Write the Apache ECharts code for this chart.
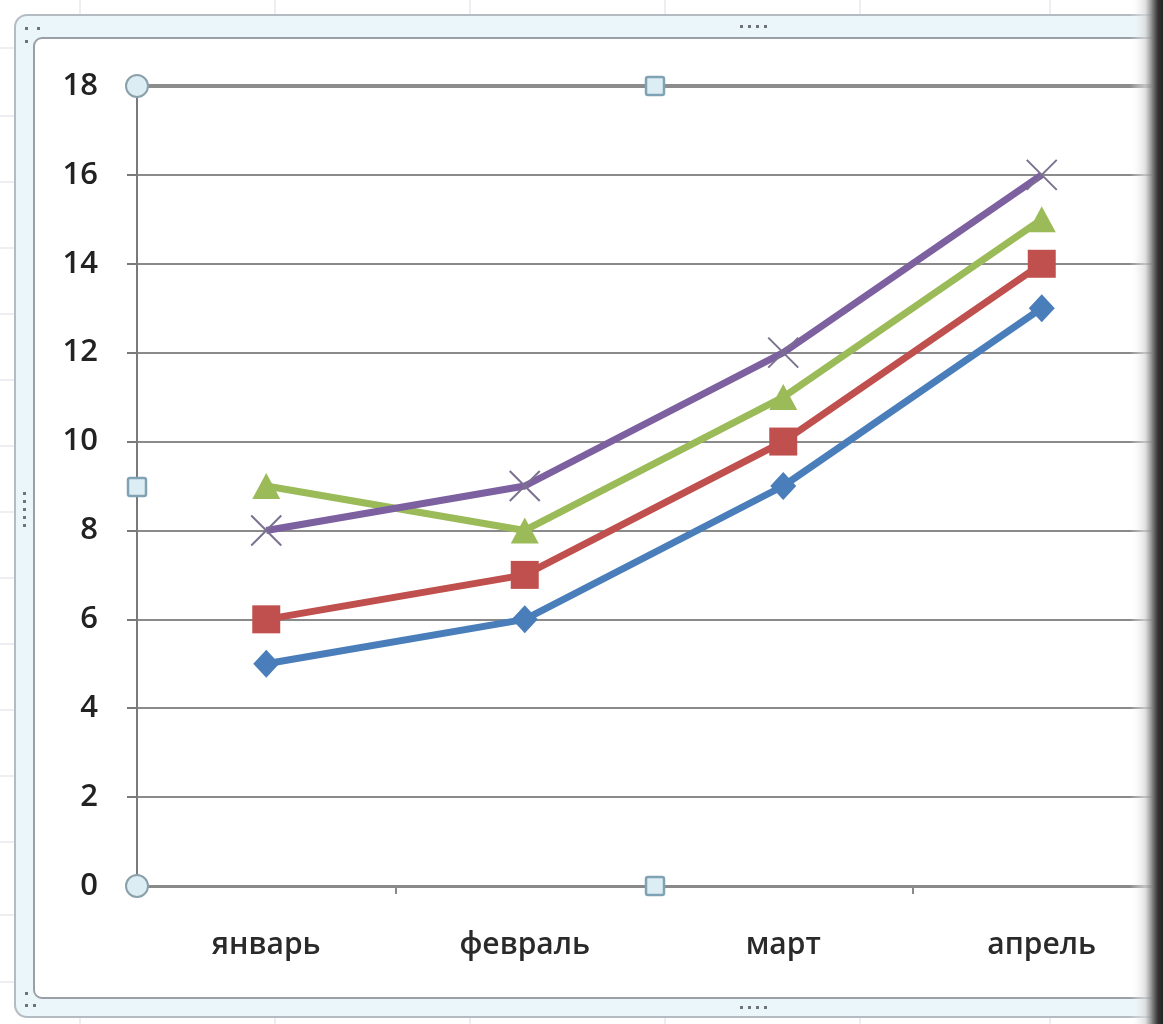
<!DOCTYPE html>
<html>
<head>
<meta charset="utf-8">
<script src="https://cdn.jsdelivr.net/npm/echarts@6/dist/echarts.min.js"></script>
<style>
html,body{margin:0;padding:0;background:#fff;overflow:hidden;width:1163px;height:1024px;}
#c{width:1190px;height:1024px;}
</style>
</head>
<body>
<div id="c"></div>
<script>
const categories = ['январь', 'февраль', 'март', 'апрель'];
const seriesBlue = [5, 6, 9, 13];
const seriesRed = [6, 7, 10, 14];
const seriesGreen = [9, 8, 11, 15];
const seriesPurple = [8, 9, 12, 16];
const yTicks = { min: 0, max: 18, interval: 2 };

const chart = echarts.init(document.getElementById('c'), null, { renderer: 'canvas' });

const G = { left: 137, top: 86, width: 1034, height: 800 };

function bgGraphics() {
  const els = [];
  const vx = [80, 275, 470, 665, 860, 1050];
  vx.forEach(x => els.push({ type: 'line', silent: true, z: -10,
    shape: { x1: x, y1: 0, x2: x, y2: 1024 }, style: { stroke: '#d9dde3', lineWidth: 1 } }));
  const hy = [48, 116, 182, 248, 314, 380, 446, 512, 578, 644, 710, 776, 842, 915, 982];
  hy.forEach(y => els.push({ type: 'line', silent: true, z: -10,
    shape: { x1: 0, y1: y, x2: 1190, y2: y }, style: { stroke: '#d9dde3', lineWidth: 1 } }));
  els.push({ type: 'rect', silent: true, z: -9,
    shape: { x: 15, y: 15, width: 1220, height: 1002, r: 12 },
    style: { fill: '#eaf6f9', stroke: '#b4bcc2', lineWidth: 2 } });
  els.push({ type: 'rect', silent: true, z: -8,
    shape: { x: 34, y: 38, width: 1200, height: 960, r: 8 },
    style: { fill: '#ffffff', stroke: '#9aa0a6', lineWidth: 2 } });
  const dot = (x, y) => els.push({ type: 'rect', silent: true, z: -7,
    shape: { x: x, y: y, width: 3, height: 3 }, style: { fill: '#6f7478' } });
  [740, 748, 756, 764].forEach(x => { dot(x, 25); dot(x, 1006); });
  [492, 500, 508, 516, 524].forEach(y => dot(23, y));
  dot(25, 27); dot(37, 27); dot(25, 40);
  dot(25, 992); dot(25, 1004); dot(33, 1004);
  els.push({ type: 'rect', silent: true, z: 20,
    shape: { x: 1130, y: 0, width: 33, height: 1024 },
    style: { fill: new echarts.graphic.LinearGradient(0, 0, 1, 0, [
      { offset: 0, color: 'rgba(255,255,255,0)' },
      { offset: 0.45, color: 'rgba(215,215,215,0.7)' },
      { offset: 0.7, color: '#777' },
      { offset: 0.85, color: '#333' },
      { offset: 1, color: '#222' }]) } });
  const circ = (x, y) => els.push({ type: 'circle', silent: true, z: 15,
    shape: { cx: x, cy: y, r: 11 }, style: { fill: '#dcedf3', stroke: '#8aa0aa', lineWidth: 2 } });
  const sq = (x, y) => els.push({ type: 'rect', silent: true, z: 15,
    shape: { x: x - 9, y: y - 9, width: 18, height: 18, r: 2 },
    style: { fill: '#dcedf3', stroke: '#7fa3b4', lineWidth: 2.5 } });
  circ(137, 86); circ(137, 886);
  sq(655, 86); sq(655, 886); sq(137, 487);
  return els;
}

const crossPath = 'path://M0,0L10,10M10,0L0,10';

function mkSeries(name, data, color, symbol, size, extra) {
  return Object.assign({
    name: name, type: 'line', data: data,
    symbol: symbol, symbolSize: size,
    lineStyle: { color: color, width: 7 },
    itemStyle: { color: color },
    z: 5
  }, extra || {});
}

chart.setOption({
  animation: false,
  backgroundColor: 'transparent',
  grid: G,
  xAxis: [{
    type: 'category', data: categories, boundaryGap: true,
    axisLine: { show: true, lineStyle: { color: '#8a8a8a', width: 3 } },
    axisTick: { show: true, length: 8, lineStyle: { color: '#8a8a8a', width: 2 } },
    axisLabel: { margin: 44, fontSize: 30, color: '#2a2a2a', fontFamily: 'Open Sans', fontWeight: 600 },
    splitLine: { show: false }
  }, {
    type: 'category', data: categories, position: 'top',
    axisLine: { show: true, lineStyle: { color: '#8c8c8c', width: 4 } },
    axisTick: { show: false }, axisLabel: { show: false }
  }],
  yAxis: {
    type: 'value', min: yTicks.min, max: yTicks.max, interval: yTicks.interval,
    axisLine: { show: true, lineStyle: { color: '#7a7a7a', width: 2 } },
    axisTick: { show: true, length: 10, lineStyle: { color: '#7a7a7a', width: 2 } },
    axisLabel: { margin: 39, fontSize: 31, color: '#222', fontFamily: 'Open Sans', fontWeight: 600 },
    splitLine: { show: true, lineStyle: { color: '#8a8a8a', width: 2 } }
  },
  series: [
    mkSeries('Ряд 1', seriesBlue, '#4a7ebb', 'diamond', [26, 28]),
    mkSeries('Ряд 2', seriesRed, '#c0504d', 'rect', 28),
    mkSeries('Ряд 3', seriesGreen, '#9bbb59', 'triangle', [28, 26]),
    mkSeries('Ряд 4', seriesPurple, '#7d60a0', crossPath, 30, {
      itemStyle: { color: 'rgba(0,0,0,0)', borderColor: '#7a7090', borderWidth: 2 }
    })
  ],
  graphic: bgGraphics()
});
</script>
</body>
</html>
